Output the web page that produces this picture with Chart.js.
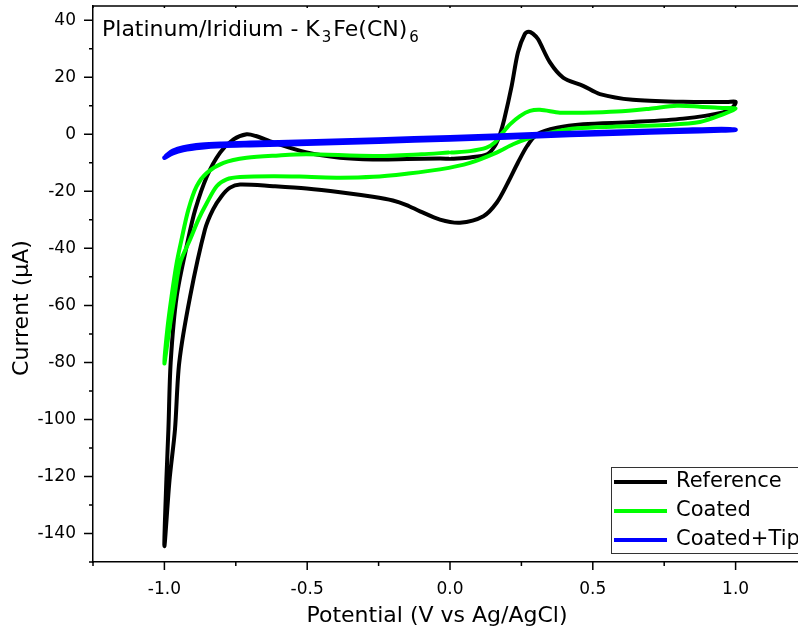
<!DOCTYPE html>
<html>
<head>
<meta charset="utf-8">
<script src="https://cdn.jsdelivr.net/npm/chart.js@4.4.1/dist/chart.umd.min.js"></script>
<style>
  html, body { margin: 0; padding: 0; background: #fff; overflow: hidden; }
  #cv { display: block; }
</style>
</head>
<body>
<canvas id="cv" width="812" height="632"></canvas>
<script>
// Cyclic voltammograms, Pt/Ir electrode in K3Fe(CN)6, scans start at 0 V

// Reference electrode
var refV = [0.005, 0.07, 0.13, 0.157, 0.175, 0.19, 0.216, 0.238, 0.262, 0.276, 0.29, 0.308, 0.35, 0.396, 0.466, 0.525, 0.64, 0.816, 0.97, 1.0,
            0.99, 0.956, 0.816, 0.64, 0.466, 0.375, 0.305, 0.27, 0.238, 0.203, 0.164, 0.117, 0.035, -0.035, -0.105, -0.152, -0.2, -0.27, -0.385, -0.502, -0.619,
            -0.735, -0.77, -0.8, -0.83, -0.858, -0.91, -0.948, -0.963, -0.982, -1.0,
            -0.993, -0.986, -0.978, -0.957, -0.917, -0.892, -0.851, -0.805, -0.758, -0.712, -0.68, -0.618, -0.502, -0.385, -0.27, -0.15, -0.035, -0.005];
var refI = [-8.6, -8.1, -7.0, -4.1, 0, 5.3, 17, 28.8, 35.2, 36, 35.3, 33.4, 25.2, 19.9, 17, 14.1, 12.1, 11.4, 11.3, 11.4,
            9.5, 7.7, 5.5, 4.3, 3.5, 2.3, 0, -4.1, -9.9, -16.9, -23.9, -28.7, -31, -29.9, -27, -24.8, -23.2, -21.9, -20.3, -19, -18.2,
            -17.6, -18.7, -21.7, -26.4, -33.4, -56.9, -80, -103.6, -121.2, -144.5,
            -121, -103.6, -80, -56.9, -36.9, -26.4, -14.7, -6.4, -1.8, 0, -0.6, -2.9, -6.4, -8.2, -8.8, -8.7, -8.5, -8.6];

// Coated electrode
var coatV = [0.005, 0.07, 0.128, 0.157, 0.18, 0.21, 0.245, 0.28, 0.315, 0.385, 0.467, 0.584, 0.7, 0.794, 0.875, 0.96, 1.0,
             0.956, 0.875, 0.758, 0.584, 0.444, 0.35, 0.28, 0.221, 0.163, 0.07, -0.035, -0.152, -0.268, -0.385, -0.502, -0.618, -0.735,
             -0.782, -0.817, -0.851, -0.881, -0.91, -0.945, -0.965, -0.985, -1.0,
             -0.99, -0.975, -0.957, -0.94, -0.916, -0.887, -0.851, -0.793, -0.712, -0.6, -0.502, -0.268, -0.1, -0.005];
var coatI = [-6.4, -5.9, -4.7, -2.9, 0, 3.5, 6.4, 8.2, 8.6, 7.6, 7.6, 8.0, 9.0, 10.0, 9.7, 9.2, 9.0,
             7.0, 4.3, 3.3, 2.7, 2.1, 0.6, -1.2, -3.5, -6.4, -10, -12.3, -13.8, -14.9, -15.2, -14.9, -14.7, -15.0,
             -15.8, -18.2, -24, -29.9, -36.9, -45.1, -57, -70, -80.4,
             -68.6, -56.9, -45.1, -36.9, -26.4, -18.2, -13.5, -10, -8.2, -7.4, -7.0, -7.6, -7.0, -6.4];

// Coated electrode + tip
var tipV = [-1.0, -0.97, -0.934, -0.87, -0.8, -0.7, -0.5, -0.25, 0, 0.2, 0.42, 0.6, 0.8, 0.95, 1.0,
            0.95, 0.8, 0.6, 0.42, 0.2, 0, -0.25, -0.5, -0.7, -0.8, -0.87, -0.934, -0.97, -0.995];
var tipI = [-8.2, -6.6, -5.5, -4.6, -4.1, -3.8, -3.3, -2.6, -1.8, -1.1, -0.2, 0.3, 0.9, 1.3, 1.6,
            1.9, 1.5, 1.0, 0.5, -0.3, -1.0, -1.8, -2.5, -3.0, -3.3, -3.7, -4.6, -5.8, -7.6];

var xTicks = [-1.25, -1.0, -0.75, -0.5, -0.25, 0, 0.25, 0.5, 0.75, 1.0, 1.25];
var yTicks = [-150, -140, -130, -120, -110, -100, -90, -80, -70, -60, -50, -40, -30, -20, -10, 0, 10, 20, 30, 40];

function pts(xs, ys) {
    return xs.map(function (x, i) { return { x: x, y: ys[i] }; });
}
function isMajorX(v) { return Math.abs(v * 2 - Math.round(v * 2)) < 1e-6; }
function isMajorY(v) { return v % 20 === 0; }

var FONT = "'DejaVu Sans', Verdana, sans-serif";
Chart.defaults.font.family = FONT;
Chart.defaults.color = '#000';

// frame, tick marks, axis titles, title and legend
var decor = {
    id: 'decor',
    afterDraw: function (chart) {
        var ctx = chart.ctx, a = chart.chartArea;
        var xs = chart.scales.x, ys = chart.scales.y;
        ctx.save();
        ctx.strokeStyle = '#000';
        ctx.lineWidth = 1.5;
        ctx.beginPath();
        ctx.moveTo(a.left, a.top);
        ctx.lineTo(a.right, a.top);
        xTicks.forEach(function (v) {
            var px = xs.getPixelForValue(v);
            var len = isMajorX(v) ? 8 : 4;
            ctx.moveTo(px, a.bottom);
            ctx.lineTo(px, a.bottom + len);
            ctx.moveTo(px, a.top);
            ctx.lineTo(px, a.top + 2);
        });
        yTicks.forEach(function (v) {
            var py = ys.getPixelForValue(v);
            var len = isMajorY(v) ? 9 : 4;
            ctx.moveTo(a.left, py);
            ctx.lineTo(a.left - len, py);
        });
        ctx.stroke();

        // axis titles
        ctx.fillStyle = '#000';
        ctx.font = '22px ' + FONT;
        ctx.textAlign = 'center';
        ctx.textBaseline = 'middle';
        ctx.fillText('Potential (V vs Ag/AgCl)', 437, 616);
        ctx.save();
        ctx.translate(22, 308);
        ctx.rotate(-Math.PI / 2);
        ctx.fillText('Current (\u00B5A)', 0, 0);
        ctx.restore();

        // title with subscripts
        ctx.textAlign = 'left';
        ctx.textBaseline = 'alphabetic';
        var x = 102, y = 36;
        var parts = [['Platinum/Iridium - K', 0], ['3', 1], ['Fe(CN)', 0], ['6', 1]];
        parts.forEach(function (p) {
            ctx.font = (p[1] ? '15px ' : '22px ') + FONT;
            if (p[1]) x += 2;
            ctx.fillText(p[0], x, y + (p[1] ? 6 : 0));
            x += ctx.measureText(p[0]).width + (p[1] ? 2 : 0);
        });

        // legend
        ctx.lineWidth = 1;
        ctx.strokeStyle = '#333';
        ctx.strokeRect(611.5, 467.5, 220, 86);
        ctx.font = '21px ' + FONT;
        ctx.textBaseline = 'middle';
        chart.data.datasets.forEach(function (ds, i) {
            var ly = 482 + i * 29;
            ctx.strokeStyle = ds.borderColor;
            ctx.lineWidth = 4;
            ctx.beginPath();
            ctx.moveTo(614, ly);
            ctx.lineTo(667, ly);
            ctx.stroke();
            ctx.fillText(ds.label, 676, ly);
        });
        ctx.restore();
    }
};

function noPad(s) {
    s.paddingTop = 0; s.paddingBottom = 0; s.paddingLeft = 0; s.paddingRight = 0;
}

var ctx = document.getElementById('cv').getContext('2d');
var cvChart = new Chart(ctx, {
    type: 'scatter',
    data: {
        datasets: [{
            label: 'Reference',
            data: pts(refV, refI),
            borderColor: '#000000',
            borderWidth: 4,
            order: 3
        }, {
            label: 'Coated',
            data: pts(coatV, coatI),
            borderColor: '#00ff00',
            borderWidth: 4,
            order: 2
        }, {
            label: 'Coated+Tip',
            data: pts(tipV, tipI),
            borderColor: '#0000ff',
            borderWidth: 4.5,
            order: 1
        }]
    },
    options: {
        responsive: false,
        animation: false,
        layout: { padding: { top: 6, right: 5, left: 0, bottom: 0 } },
        elements: {
            line: { tension: 0.3, fill: false, borderCapStyle: 'round', borderJoinStyle: 'round' },
            point: { radius: 0, hoverRadius: 0 }
        },
        datasets: { scatter: { showLine: true } },
        plugins: { legend: { display: false }, title: { display: false }, tooltip: { enabled: false } },
        scales: {
            x: {
                type: 'linear',
                min: -1.25,
                max: 1.25,
                afterBuildTicks: function (s) { s.ticks = xTicks.map(function (v) { return { value: v }; }); },
                afterFit: function (s) { s.height = 70; noPad(s); },
                grid: { display: false, drawTicks: false },
                border: { display: true, color: '#000', width: 1.5 },
                ticks: {
                    autoSkip: false,
                    maxRotation: 0,
                    padding: 17,
                    font: { size: 17 },
                    callback: function (v) { return isMajorX(v) ? v.toFixed(1) : ''; }
                }
            },
            y: {
                type: 'linear',
                min: -150,
                max: 45,
                afterBuildTicks: function (s) { s.ticks = yTicks.map(function (v) { return { value: v }; }); },
                afterFit: function (s) { s.width = 93; noPad(s); },
                grid: { display: false, drawTicks: false },
                border: { display: true, color: '#000', width: 1.5 },
                ticks: {
                    autoSkip: false,
                    padding: 17,
                    font: { size: 17 },
                    callback: function (v) { return isMajorY(v) ? String(v) : ''; }
                }
            }
        }
    },
    plugins: [decor]
});
</script>
</body>
</html>
